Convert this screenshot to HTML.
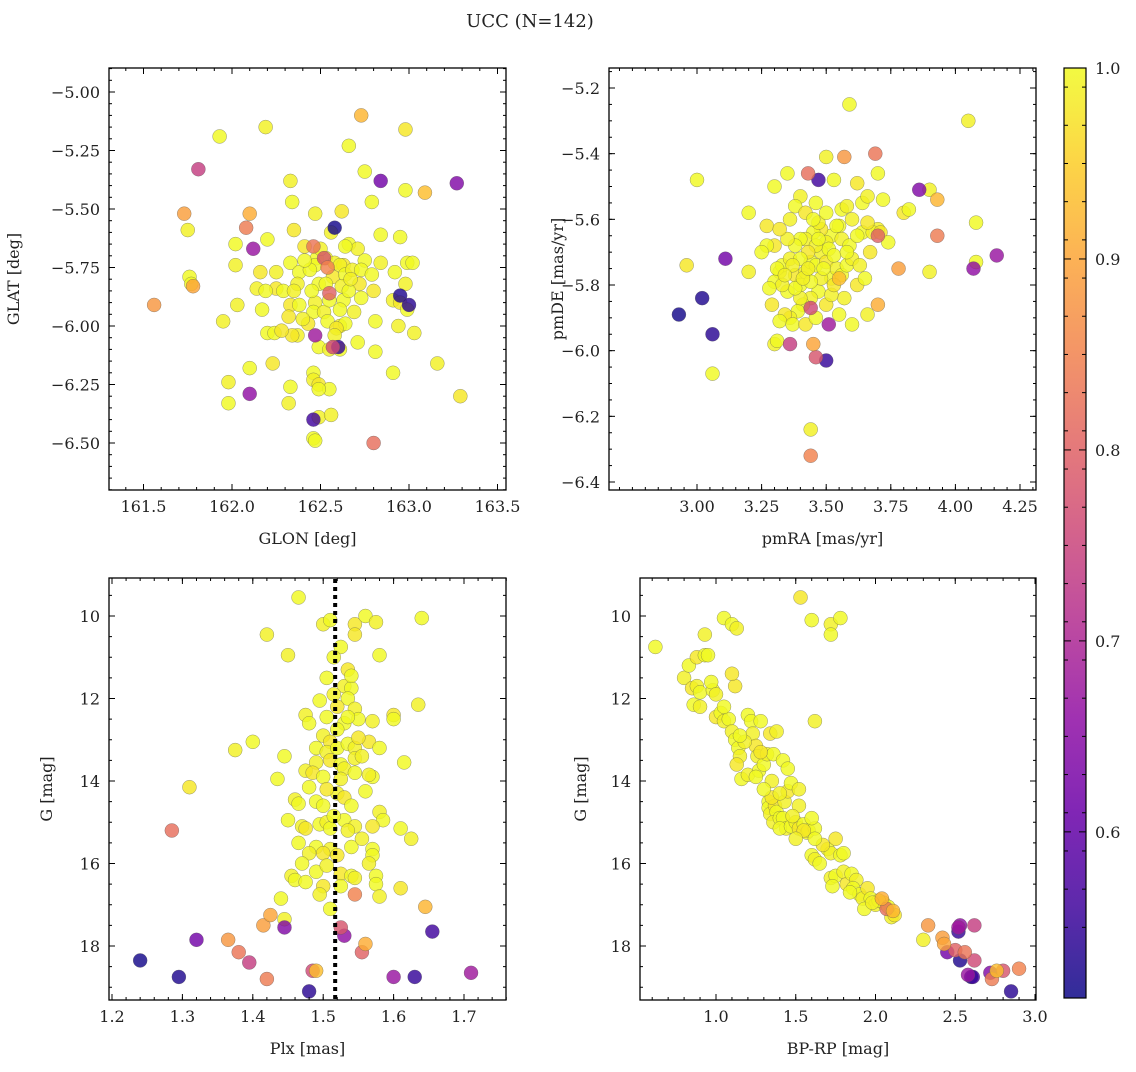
<!DOCTYPE html>
<html><head><meta charset="utf-8"><style>
body{margin:0;background:#fff;}
svg text{font-family:"DejaVu Serif","Liberation Serif",serif;fill:#222;}
</style></head><body>
<svg id="fig" width="1136" height="1067" xmlns="http://www.w3.org/2000/svg">
<text x="530" y="27" font-size="18" text-anchor="middle">UCC (N=142)</text>
</svg>
<script>
// ---- data ----
const probNY=[0.52,0.53,0.54,0.55,0.56,0.62,0.64,0.66,0.67,0.68,0.74,0.76,0.78,0.80,0.82,0.83,0.84,0.85,0.88,0.89,0.90,0.91,0.92,0.93];
const glonNY=[162.58,162.95,163.00,162.60,162.46,162.84,163.27,162.10,162.12,162.47,161.81,162.57,162.52,162.55,162.80,162.46,162.08,162.54,161.56,161.73,161.78,162.10,162.73,163.09];
const glatNY=[-5.58,-5.87,-5.91,-6.09,-6.40,-5.38,-5.39,-6.29,-5.67,-6.04,-5.33,-6.09,-5.71,-5.86,-6.50,-5.66,-5.58,-5.75,-5.91,-5.52,-5.83,-5.52,-5.10,-5.43];
const pmraNY=[2.93,3.02,3.06,3.50,3.47,3.11,3.86,4.07,4.16,3.51,3.36,3.44,3.46,3.70,3.43,3.69,3.93,3.44,3.57,3.78,3.45,3.70,3.93,3.55];
const pmdeNY=[-5.89,-5.84,-5.95,-6.03,-5.48,-5.72,-5.51,-5.75,-5.71,-5.92,-5.98,-5.87,-6.02,-5.65,-5.46,-5.40,-5.65,-6.32,-5.41,-5.75,-5.98,-5.86,-5.54,-5.78];
const plxNY=[1.24,1.295,1.48,1.63,1.655,1.32,1.445,1.53,1.60,1.71,1.395,1.485,1.525,1.555,1.285,1.38,1.42,1.545,1.365,1.415,1.425,1.56,1.645,1.49];
const gNY=[18.35,18.75,19.1,18.75,17.65,17.85,17.55,17.75,18.75,18.65,18.4,18.6,17.55,18.15,15.2,18.15,18.8,16.75,17.85,17.5,17.25,17.95,17.05,18.6];
const bprpNY=[2.60,2.53,2.85,2.52,2.61,2.45,2.72,2.53,2.58,2.52,2.62,2.62,2.80,2.50,2.07,2.56,2.73,2.90,2.33,2.42,2.43,2.04,2.11,2.76];
const g4NY=[18.75,18.35,19.1,17.65,18.75,18.15,18.65,17.5,18.7,17.55,17.5,18.35,18.6,18.1,17.1,18.15,18.8,18.55,17.5,17.8,17.95,16.85,17.15,18.6];

const glonY=[161.93,162.19,162.66,162.98,162.75,162.33,162.34,162.47,162.62,162.79,162.98,161.75,162.02,162.35,162.20,162.56,162.84,162.66,162.71,162.41,162.48,162.53,162.95,162.47,162.58,162.63,162.75,162.84,162.99,163.02,162.02,162.16,162.33,162.25,162.38,162.44,162.61,162.57,162.64,162.68,162.73,162.79,162.14,162.25,162.29,162.37,162.49,162.53,162.62,162.72,162.92,162.98,161.76,161.77,162.03,162.33,162.38,162.47,162.63,162.46,162.52,162.43,162.54,162.61,162.64,162.81,162.91,162.95,162.99,161.95,162.20,162.24,162.37,162.59,162.49,163.03,162.71,162.81,162.94,162.23,162.10,161.98,162.33,162.46,162.46,162.49,162.55,162.32,162.49,162.91,163.16,163.29,161.98,162.49,162.46,162.47,162.56,162.34,162.61,162.69,162.61,162.66,162.40,162.28,162.64,162.50,162.17,162.55,162.58,162.32,162.19,162.67,162.45,162.41,162.35,162.80,162.73,162.55,162.51,162.86];
const glatY=[-5.19,-5.15,-5.23,-5.16,-5.34,-5.38,-5.47,-5.52,-5.51,-5.47,-5.42,-5.59,-5.65,-5.59,-5.63,-5.60,-5.61,-5.65,-5.67,-5.66,-5.71,-5.71,-5.62,-5.74,-5.73,-5.74,-5.72,-5.73,-5.73,-5.73,-5.74,-5.77,-5.73,-5.77,-5.77,-5.76,-5.74,-5.79,-5.78,-5.76,-5.76,-5.78,-5.84,-5.84,-5.85,-5.82,-5.82,-5.82,-5.83,-5.82,-5.77,-5.82,-5.79,-5.82,-5.91,-5.91,-5.91,-5.90,-5.89,-5.94,-5.94,-5.99,-5.98,-6.00,-5.99,-5.98,-5.89,-5.90,-5.93,-5.98,-6.03,-6.03,-6.04,-6.01,-6.09,-6.03,-6.07,-6.11,-6.00,-6.16,-6.18,-6.24,-6.26,-6.20,-6.23,-6.25,-6.27,-6.33,-6.27,-6.20,-6.16,-6.30,-6.33,-6.39,-6.48,-6.49,-6.38,-6.04,-6.10,-5.94,-5.93,-5.85,-5.97,-6.02,-5.66,-5.67,-5.93,-5.89,-6.04,-5.96,-5.85,-5.80,-5.85,-5.72,-5.85,-5.85,-5.88,-6.10,-5.94,-5.62];
const pmraY=[3.59,4.05,3.00,2.96,3.06,3.44,3.20,3.20,3.27,3.30,3.35,3.40,3.38,3.42,3.46,3.50,3.53,3.56,3.58,3.62,3.64,3.66,3.70,3.72,3.70,3.80,3.82,3.90,4.08,4.08,3.90,3.67,3.64,3.60,3.55,3.52,3.50,3.48,3.45,3.42,3.40,3.38,3.35,3.30,3.27,3.32,3.30,3.33,3.36,3.38,3.40,3.42,3.44,3.46,3.48,3.50,3.52,3.54,3.56,3.58,3.60,3.62,3.65,3.57,3.55,3.60,3.66,3.50,3.47,3.44,3.41,3.39,3.36,3.34,3.32,3.30,3.31,3.37,3.40,3.42,3.46,3.52,3.35,3.38,3.33,3.29,3.31,3.48,3.51,3.53,3.46,3.43,3.40,3.56,3.59,3.62,3.68,3.71,3.74,3.47,3.50,3.45,3.36,3.32,3.25,3.37,3.54,3.58,3.63,3.66,3.49,3.34,3.28,3.44,3.41,3.53,3.47,3.43];
const pmdeY=[-5.25,-5.30,-5.48,-5.74,-6.07,-6.24,-5.58,-5.76,-5.62,-5.50,-5.46,-5.53,-5.56,-5.58,-5.55,-5.41,-5.48,-5.57,-5.56,-5.49,-5.55,-5.53,-5.46,-5.54,-5.63,-5.58,-5.57,-5.51,-5.61,-5.73,-5.76,-5.70,-5.64,-5.60,-5.62,-5.65,-5.67,-5.63,-5.64,-5.66,-5.66,-5.68,-5.66,-5.68,-5.68,-5.76,-5.79,-5.74,-5.72,-5.77,-5.80,-5.76,-5.73,-5.74,-5.70,-5.73,-5.78,-5.75,-5.77,-5.74,-5.72,-5.80,-5.78,-5.84,-5.89,-5.92,-5.89,-5.86,-5.82,-5.84,-5.86,-5.88,-5.90,-5.89,-5.91,-5.98,-5.97,-5.92,-5.84,-5.92,-5.90,-5.83,-5.82,-5.81,-5.80,-5.86,-5.75,-5.78,-5.69,-5.71,-5.68,-5.70,-5.72,-5.66,-5.68,-5.65,-5.64,-5.64,-5.67,-5.61,-5.58,-5.60,-5.60,-5.63,-5.70,-5.74,-5.62,-5.70,-5.74,-5.61,-5.75,-5.77,-5.81,-5.79,-5.78,-5.80,-5.66,-5.75];
const plxY=[1.465,1.50,1.51,1.545,1.56,1.575,1.64,1.42,1.545,1.525,1.58,1.45,1.515,1.535,1.505,1.53,1.54,1.535,1.545,1.52,1.505,1.475,1.48,1.55,1.57,1.60,1.60,1.635,1.53,1.52,1.50,1.51,1.49,1.505,1.52,1.535,1.545,1.565,1.58,1.375,1.40,1.445,1.49,1.51,1.525,1.545,1.615,1.435,1.475,1.485,1.50,1.53,1.545,1.57,1.565,1.31,1.48,1.46,1.465,1.49,1.52,1.53,1.54,1.58,1.585,1.45,1.47,1.475,1.495,1.505,1.51,1.53,1.545,1.57,1.61,1.625,1.465,1.49,1.51,1.52,1.54,1.555,1.57,1.57,1.48,1.50,1.47,1.455,1.46,1.49,1.505,1.525,1.54,1.565,1.575,1.575,1.58,1.61,1.44,1.445,1.51,1.525,1.545,1.50,1.475,1.535,1.515,1.50,1.525,1.55,1.54,1.515,1.495,1.535,1.555,1.505,1.56,1.495];
const gY=[9.55,10.2,10.1,10.2,10.0,10.15,10.05,10.45,10.45,10.75,10.95,10.95,11.0,11.3,11.5,11.7,11.75,12.0,12.25,12.2,12.45,12.4,12.6,12.5,12.55,12.4,12.5,12.15,12.6,12.75,12.9,13.05,13.2,13.3,13.2,13.1,13.2,13.05,13.2,13.25,13.05,13.4,13.55,13.5,13.6,13.45,13.55,13.95,13.75,13.8,13.9,13.7,13.8,13.9,13.85,14.15,14.15,14.45,14.55,14.5,14.3,14.4,14.6,14.75,14.95,14.95,15.1,15.15,15.05,15.0,15.15,14.95,15.1,15.1,15.15,15.4,15.5,15.6,15.65,15.8,15.6,15.4,15.65,15.8,15.75,15.75,16.0,16.3,16.4,16.2,16.05,16.25,16.3,16.0,16.3,16.5,16.8,16.6,16.85,17.35,17.1,16.55,16.35,16.55,16.45,15.2,14.85,14.6,13.95,12.95,11.45,11.9,12.05,12.45,13.4,14.2,14.25,16.75];
const bprpY=[0.62,0.80,0.83,0.85,0.86,0.88,0.90,0.90,0.88,0.93,0.95,0.93,0.98,1.0,1.03,1.05,1.05,1.10,1.13,1.12,1.08,1.10,1.12,1.14,1.15,1.13,1.16,1.20,1.20,1.22,1.23,1.25,1.28,1.26,1.27,1.30,1.32,1.34,1.36,1.35,1.33,1.33,1.34,1.37,1.38,1.36,1.40,1.42,1.43,1.45,1.47,1.44,1.40,1.47,1.50,1.52,1.55,1.57,1.58,1.62,1.62,1.53,1.60,1.72,1.72,1.78,1.52,1.55,1.60,1.62,1.65,1.70,1.72,1.75,1.78,1.72,1.75,1.73,1.80,1.82,1.85,1.88,1.86,1.90,1.92,1.95,1.97,2.00,1.93,2.05,2.10,2.12,2.02,2.30,1.80,1.60,1.48,1.35,1.25,1.18,1.05,1.42,1.52,1.10,0.97,1.38,1.45,1.30,1.50,1.67,1.84,1.98,2.08,1.62,1.40,1.28,1.15,1.00];
const g4Y=[10.75,11.5,11.2,11.75,12.15,11.7,11.85,12.2,11.0,10.95,10.95,10.45,11.8,12.45,12.35,12.55,10.05,10.2,10.3,11.7,12.5,12.8,13.0,13.2,13.4,13.6,13.95,13.85,12.4,12.55,12.85,13.15,12.55,13.4,13.75,13.6,13.35,12.85,13.35,14.0,14.5,14.65,14.8,14.6,14.75,15.0,14.9,14.9,14.5,14.25,14.05,15.15,15.15,15.1,15.0,15.15,15.05,15.25,15.2,15.15,12.55,9.55,10.1,10.2,10.45,10.05,14.6,15.2,15.8,15.9,16.0,15.65,15.75,15.4,15.8,16.35,16.3,16.55,16.2,16.5,16.25,16.4,16.6,16.75,16.85,16.6,16.85,17.0,17.1,16.95,17.3,17.25,16.9,17.85,15.75,14.9,14.85,14.4,13.9,13.05,12.2,13.5,14.2,11.4,11.6,12.8,13.7,14.2,15.4,15.55,16.7,16.95,17.05,15.4,14.3,13.3,12.9,11.9];
const probY=[1.0,0.99,1.0,0.98,1.0,0.99,1.0,0.99,0.98,1.0,1.0,0.99,1.0,0.98,1.0,0.99,1.0,1.0,0.99,0.98,1.0,0.99,1.0,1.0,0.99,0.98,1.0,0.99,1.0,1.0,0.99,0.98,1.0,0.99,1.0,1.0,0.99,0.98,1.0,0.99,1.0,1.0,0.99,0.98,1.0,0.99,1.0,1.0,0.99,0.98,1.0,0.99,1.0,1.0,0.99,0.98,1.0,0.99,1.0,1.0,0.99,0.98,1.0,0.99,1.0,1.0,0.99,0.98,1.0,0.99,1.0,1.0,0.99,0.98,1.0,0.99,1.0,1.0,0.99,0.98,1.0,0.99,1.0,1.0,0.99,0.98,1.0,0.99,1.0,1.0,0.99,0.98,1.0,0.99,1.0,1.0,0.99,0.98,1.0,0.99,1.0,1.0,0.99,0.98,1.0,0.99,1.0,1.0,0.99,0.98,1.0,0.99,1.0,1.0,0.99,0.98,1.0,0.99];
const plxMedian=1.517;
const pMin=0.513, pMax=1.0;
const cbTicks=[0.6,0.7,0.8,0.9,1.0];

// ---- helpers ----
const NS='http://www.w3.org/2000/svg';
const svg=document.getElementById('fig');
function mk(tag,attrs,parent){const e=document.createElementNS(NS,tag);for(const k in attrs)e.setAttribute(k,attrs[k]);(parent||svg).appendChild(e);return e;}
const stops=[[13,8,135],[65,4,157],[106,0,168],[143,13,164],[177,42,144],[204,71,120],[225,100,98],[242,132,75],[252,166,54],[252,206,37],[240,249,33]];
function plasma(t){t=Math.max(0,Math.min(1,t));const f=t*10,i=Math.min(9,Math.floor(f)),r=f-i;const a=stops[i],b=stops[i+1];return 'rgb('+a.map((v,k)=>Math.round(v+(b[k]-v)*r)).join(',')+')';}
function col(p){return plasma((p-pMin)/(pMax-pMin));}
function lin(d0,d1,r0,r1){return v=>r0+(v-d0)/(d1-d0)*(r1-r0);}
function fmt(v,dec){return (v<0?'\u2212':'')+Math.abs(v).toFixed(dec);}

function panel(cfg){
  const g=mk('g',{});
  
  
  const {x0,x1,y0,y1,sx,sy}=cfg;
  const pts=mk('g',{},g);
  
  
  const draw=(xs,ys,ps)=>{const n=Math.min(xs.length,ys.length,ps.length);for(let i=0;i<n;i++){const c=mk('circle',{cx:sx(xs[i]),cy:sy(ys[i]),r:7,fill:col(ps[i]),'fill-opacity':0.82,stroke:'#555','stroke-opacity':0.6,'stroke-width':0.5},pts);
    
    }};
  draw(cfg.xY,cfg.yY,probY);
  draw(cfg.xNY,cfg.yNY,probNY);
  if(cfg.extra)cfg.extra(g);
  mk('rect',{x:x0,y:y0,width:x1-x0,height:y1-y0,fill:'none',stroke:'#000','stroke-width':1.3},g);
  const tk=(vals,minor,axis)=>{
    vals.forEach(v=>{
      if(axis==='x'){const x=sx(v);if(x<x0-0.5||x>x1+0.5)return;const L=minor?3:6;
        mk('line',{x1:x,x2:x,y1:y1,y2:y1-L,stroke:'#000','stroke-width':1},g);mk('line',{x1:x,x2:x,y1:y0,y2:y0+L,stroke:'#000','stroke-width':1},g);
        if(!minor){const t=mk('text',{x:x,y:y1+22,'font-size':16,'text-anchor':'middle'},g);t.textContent=fmt(v,cfg.xdec);}}
      else{const y=sy(v);if(y<y0-0.5||y>y1+0.5)return;const L=minor?3:6;
        mk('line',{y1:y,y2:y,x1:x0,x2:x0+L,stroke:'#000','stroke-width':1},g);mk('line',{y1:y,y2:y,x1:x1,x2:x1-L,stroke:'#000','stroke-width':1},g);
        if(!minor){const t=mk('text',{x:x0-9,y:y+6,'font-size':16,'text-anchor':'end'},g);t.textContent=fmt(v,cfg.ydec);}}
    });};
  const range=(a,b,s)=>{const r=[];for(let v=a;v<=b+1e-9;v+=s)r.push(+v.toFixed(4));return r;};
  tk(range(cfg.xm[0],cfg.xm[1],cfg.xm[2]),true,'x');tk(cfg.xt,false,'x');
  tk(range(cfg.ym[0],cfg.ym[1],cfg.ym[2]),true,'y');tk(cfg.yt,false,'y');
  const xl=mk('text',{x:(x0+x1)/2,y:y1+54,'font-size':16,'text-anchor':'middle'},g);xl.textContent=cfg.xlab;
  
  const yl=mk('text',{x:cfg.ylx,y:(y0+y1)/2,'font-size':16,'text-anchor':'middle',transform:'rotate(-90 '+cfg.ylx+' '+(y0+y1)/2+')'},g);yl.textContent=cfg.ylab;
  
}

panel({name:'glon-glat-panel',x0:109,x1:506,y0:68,y1:490,sx:lin(161.5,163.0,143.5,409),sy:lin(-5.0,-6.5,92,443),
 xY:glonY,yY:glatY,xNY:glonNY,yNY:glatNY,xt:[161.5,162,162.5,163,163.5],xm:[161.4,163.5,0.1],xdec:1,
 yt:[-5,-5.25,-5.5,-5.75,-6,-6.25,-6.5],ym:[-6.7,-4.9,0.05],ydec:2,xlab:'GLON [deg]',ylab:'GLAT [deg]',ylx:19});
panel({name:'proper-motion-panel',x0:609,x1:1036,y0:68,y1:490,sx:lin(3.0,4.0,697,955.4),sy:lin(-5.2,-6.4,88,482),
 xY:pmraY,yY:pmdeY,xNY:pmraNY,yNY:pmdeNY,xt:[3,3.25,3.5,3.75,4,4.25],xm:[2.7,4.3,0.05],xdec:2,
 yt:[-5.2,-5.4,-5.6,-5.8,-6,-6.2,-6.4],ym:[-6.4,-5.15,0.05],ydec:1,xlab:'pmRA [mas/yr]',ylab:'pmDE [mas/yr]',ylx:563});
panel({name:'plx-g-panel',x0:109,x1:506,y0:578,y1:1000,sx:lin(1.2,1.7,112,464),sy:lin(10,18,616,946),
 xY:plxY,yY:gY,xNY:plxNY,yNY:gNY,xt:[1.2,1.3,1.4,1.5,1.6,1.7],xm:[1.2,1.76,0.02],xdec:1,
 yt:[10,12,14,16,18],ym:[9.5,19.5,0.5],ydec:0,xlab:'Plx [mas]',ylab:'G [mag]',ylx:52,
 extra:(g)=>{const x=lin(1.2,1.7,112,464)(plxMedian);const l=mk('line',{x1:x,x2:x,y1:579,y2:999,stroke:'#000','stroke-width':4,'stroke-dasharray':'4,4'},g);
  
  }});
panel({name:'cmd-panel',x0:640,x1:1036,y0:578,y1:1000,sx:lin(1.0,3.0,716,1035),sy:lin(10,18,616,946),
 xY:bprpY,yY:g4Y,xNY:bprpNY,yNY:g4NY,xt:[1,1.5,2,2.5,3],xm:[0.4,3.0,0.1],xdec:1,
 yt:[10,12,14,16,18],ym:[9.5,19.5,0.5],ydec:0,xlab:'BP-RP [mag]',ylab:'G [mag]',ylx:586});

const cb=mk('g',{});


const defs=mk('defs',{},cb);
const lg=mk('linearGradient',{id:'cbg',x1:0,y1:1,x2:0,y2:0},defs);
for(let i=0;i<=20;i++){mk('stop',{offset:(i/20),'stop-color':plasma(i/20),'stop-opacity':0.85},lg);}
mk('rect',{x:1064,y:68,width:22,height:930,fill:'url(#cbg)',stroke:'#000','stroke-width':1.2},cb);
const cy=lin(pMin,pMax,998,68);
for(let v=0.55;v<=1.0001;v+=0.02){const y=cy(v);mk('line',{x1:1086,x2:1082,y1:y,y2:y,stroke:'#000','stroke-width':1},cb);mk('line',{x1:1064,x2:1068,y1:y,y2:y,stroke:'#000','stroke-width':1},cb);}
cbTicks.forEach(v=>{const y=cy(v);mk('line',{x1:1086,x2:1079,y1:y,y2:y,stroke:'#000','stroke-width':1},cb);mk('line',{x1:1064,x2:1071,y1:y,y2:y,stroke:'#000','stroke-width':1},cb);
 const t=mk('text',{x:1095,y:y+6,'font-size':16},cb);t.textContent=v.toFixed(1);
 
 });
</script>
</body></html>
